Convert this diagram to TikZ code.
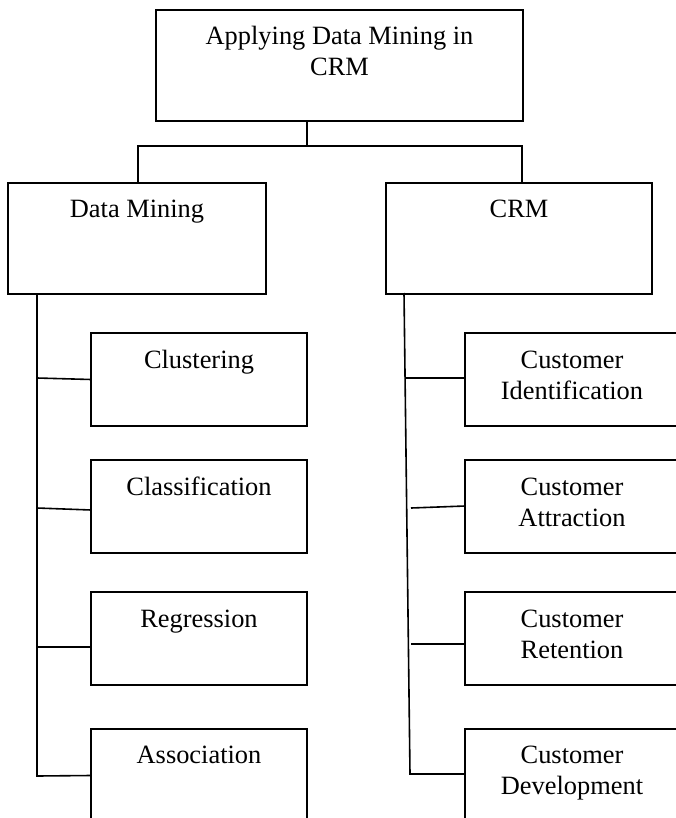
\documentclass[tikz,border=0pt]{standalone}
\usepackage{fontspec}
\setmainfont{Liberation Serif}
\usetikzlibrary{calc}
\tikzset{
  box/.style={draw, line width=1.6pt, rectangle, inner sep=0pt, outer sep=0pt},
  lbl/.style={font=\fontsize{26.4}{31}\selectfont, anchor=base, inner sep=0pt},
  conn/.style={line width=1.6pt}
}
\newcommand{\twol}[2]{\begin{tabular}[t]{@{}c@{}}#1\\#2\end{tabular}}
\begin{document}
\begin{tikzpicture}[x=1pt,y=-1pt]
\clip (0,0) rectangle (676,818);
% top level
\node[box, minimum width=367pt, minimum height=111pt] (top) at (339.5,65.5) {};
\node[lbl] (topt) at ($(top.north)+(0,35)$) {\twol{Applying Data Mining in}{CRM}};
% second level
\node[box, minimum width=258pt, minimum height=111pt] (dm) at (137,238.5) {};
\node[lbl] (dmt) at ($(dm.north)+(0,35)$) {Data Mining};
\node[box, minimum width=266pt, minimum height=111pt] (crm) at (519,238.5) {};
\node[lbl] (crmt) at ($(crm.north)+(0,35)$) {CRM};
% left children
\node[box, minimum width=216pt, minimum height=93pt] (clu) at (199,379.5) {};
\node[lbl] (clut) at ($(clu.north)+(0,35)$) {Clustering};
\node[box, minimum width=216pt, minimum height=93pt] (cls) at (199,506.5) {};
\node[lbl] (clst) at ($(cls.north)+(0,35)$) {Classification};
\node[box, minimum width=216pt, minimum height=93pt] (reg) at (199,638.5) {};
\node[lbl] (regt) at ($(reg.north)+(0,35)$) {Regression};
\node[box, minimum width=216pt, minimum height=93pt] (aso) at (199,775.5) {};
\node[lbl] (asot) at ($(aso.north)+(0,34)$) {Association};
% right children
\node[box, minimum width=214pt, minimum height=93pt] (cid) at (572,379.5) {};
\node[lbl] (cidt) at ($(cid.north)+(0,35)$) {\twol{Customer}{Identification}};
\node[box, minimum width=214pt, minimum height=93pt] (cat) at (572,506.5) {};
\node[lbl] (catt) at ($(cat.north)+(0,35)$) {\twol{Customer}{Attraction}};
\node[box, minimum width=214pt, minimum height=93pt] (cre) at (572,638.5) {};
\node[lbl] (cret) at ($(cre.north)+(0,35)$) {\twol{Customer}{Retention}};
\node[box, minimum width=214pt, minimum height=93pt] (cde) at (572,775.5) {};
\node[lbl] (cdet) at ($(cde.north)+(0,34)$) {\twol{Customer}{Development}};
% top connectors
\coordinate (tj) at (307,146);
\coordinate (hl) at (138,146);
\coordinate (hr) at (522,146);
\draw[conn] (top.south -| tj) -- (tj);
\draw[conn] (dm.north -| hl) -- (hl) -- (hr) -- (crm.north -| hr);
% left trunk
\coordinate (lx) at (37,0);
\coordinate (lend) at (37,776);
\coordinate (l1) at (37,378);
\coordinate (l2) at (37,508);
\coordinate (l3) at (37,647);
\draw[conn] (dm.south -| lx) -- (lend) -- (aso.west);
\draw[conn] (l1) -- (clu.west);
\draw[conn] (l2) -- ($(cls.west)+(0,3.5)$);
\draw[conn] (l3) -- ($(reg.west)+(0,8.5)$);
% right trunk
\coordinate (rtop) at (404,293);
\coordinate (rend) at (410,774);
\coordinate (r1) at (405,378);
\coordinate (r2) at (411,508);
\coordinate (r3) at (411,644);
\draw[conn] (rtop) -- (rend) -- ($(cde.west)+(0,-1.5)$);
\draw[conn] (r1) -- ($(cid.west)+(0,-1.5)$);
\draw[conn] (r2) -- ($(cat.west)+(0,-0.5)$);
\draw[conn] (r3) -- ($(cre.west)+(0,5.5)$);
\end{tikzpicture}
\end{document}
